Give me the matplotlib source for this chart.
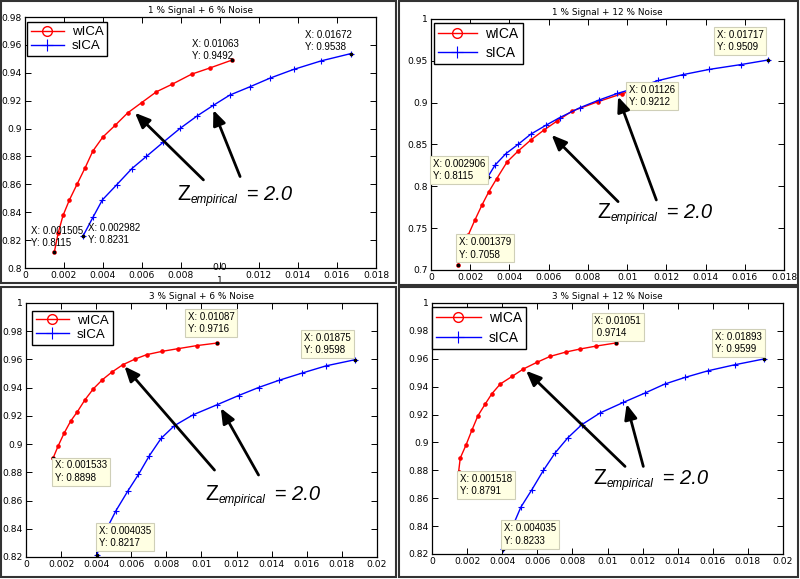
import numpy as np
import matplotlib
matplotlib.use("Agg")
import matplotlib.pyplot as plt
from matplotlib.lines import Line2D
from matplotlib.patches import Rectangle
from matplotlib.ticker import FuncFormatter

plt.rcParams['font.family'] = ['DejaVu Sans']

# --- Données ---
titres = ["1 % Signal + 6 % Noise", "1 % Signal + 12 % Noise",
          "3 % Signal + 6 % Noise", "3 % Signal + 12 % Noise"]

wica_x_1 = [0.001505, 0.00170, 0.00195, 0.00228, 0.00267, 0.00308, 0.00348, 0.00399,
            0.00462, 0.00527, 0.00599, 0.00674, 0.00756, 0.00854, 0.00949, 0.01063]
wica_y_1 = [0.8115, 0.8250, 0.8377, 0.8489, 0.8601, 0.8718, 0.8839, 0.8939,
            0.9023, 0.9113, 0.9187, 0.9264, 0.9319, 0.9390, 0.9435, 0.9492]
sica_x_1 = [0.002982, 0.00349, 0.00397, 0.00471, 0.00548, 0.00623, 0.00708, 0.00795,
            0.00884, 0.00965, 0.01050, 0.01154, 0.01257, 0.01377, 0.01520, 0.01672]
sica_y_1 = [0.8231, 0.8365, 0.8489, 0.8598, 0.8713, 0.8801, 0.8901, 0.9001,
            0.9092, 0.9166, 0.9240, 0.9300, 0.9362, 0.9424, 0.9486, 0.9538]

wica_x_2 = [0.001379, 0.00190, 0.00224, 0.00260, 0.00295, 0.00334, 0.00389, 0.00445,
            0.00509, 0.00576, 0.00643, 0.00720, 0.00852, 0.00975, 0.01126]
wica_y_2 = [0.7058, 0.7418, 0.7598, 0.7777, 0.7936, 0.8088, 0.8295, 0.8423,
            0.8554, 0.8673, 0.8781, 0.8900, 0.9012, 0.9108, 0.9212]
sica_x_2 = [0.002906, 0.00326, 0.00382, 0.00445, 0.00508, 0.00586, 0.00657, 0.00760,
            0.00855, 0.00950, 0.01050, 0.01160, 0.01285, 0.01420, 0.01580, 0.01717]
sica_y_2 = [0.8115, 0.8252, 0.8391, 0.8503, 0.8622, 0.8730, 0.8822, 0.8940,
            0.9030, 0.9110, 0.9180, 0.9265, 0.9335, 0.9398, 0.9455, 0.9509]

wica_x_3 = [0.001533, 0.00184, 0.00217, 0.00255, 0.00293, 0.00336, 0.00384, 0.00435,
            0.00489, 0.00551, 0.00622, 0.00688, 0.00774, 0.00865, 0.00973, 0.01087]
wica_y_3 = [0.8898, 0.8989, 0.9077, 0.9164, 0.9230, 0.9314, 0.9392, 0.9456,
            0.9510, 0.9562, 0.9603, 0.9634, 0.9657, 0.9676, 0.9698, 0.9716]
sica_x_3 = [0.004035, 0.00460, 0.00513, 0.00580, 0.00641, 0.00703, 0.00770, 0.00846,
            0.00951, 0.01087, 0.01211, 0.01325, 0.01439, 0.01572, 0.01711, 0.01875]
sica_y_3 = [0.8217, 0.8400, 0.8529, 0.8667, 0.8785, 0.8918, 0.9041, 0.9131,
            0.9207, 0.9278, 0.9344, 0.9401, 0.9451, 0.9503, 0.9555, 0.9598]

wica_x_4 = [0.001518, 0.00161, 0.00193, 0.00227, 0.00262, 0.00303, 0.00341, 0.00389,
            0.00457, 0.00521, 0.00597, 0.00673, 0.00762, 0.00844, 0.00935, 0.01051]
wica_y_4 = [0.8791, 0.8888, 0.8979, 0.9087, 0.9192, 0.9275, 0.9349, 0.9419,
            0.9474, 0.9527, 0.9574, 0.9617, 0.9648, 0.9670, 0.9691, 0.9714]
sica_x_4 = [0.004035, 0.00460, 0.00506, 0.00569, 0.00635, 0.00701, 0.00773, 0.00853,
            0.00957, 0.01090, 0.01213, 0.01327, 0.01441, 0.01573, 0.01725, 0.01893]
sica_y_4 = [0.8233, 0.8400, 0.8535, 0.8661, 0.8800, 0.8924, 0.9032, 0.9127,
            0.9211, 0.9287, 0.9354, 0.9419, 0.9466, 0.9514, 0.9557, 0.9599]

# --- Mise en page (fractions de figure) ---
positions = [[0.03125, 0.5371, 0.43875, 0.4335],
             [0.53875, 0.5337, 0.44125, 0.4335],
             [0.0325, 0.0380, 0.43875, 0.4387],
             [0.54, 0.0432, 0.43875, 0.4335]]
limites_x = [0.018, 0.018, 0.02, 0.02]
limites_y = [(0.80, 0.98), (0.70, 1.0), (0.82, 1.0), (0.82, 1.0)]
pas_y = [0.02, 0.05, 0.02, 0.02]

# décalages (pixels) des bulles de données : [wICA début, sICA début, wICA fin, sICA fin]
decalages = [[(-23, 26), (5, 13), (-40, 21), (-46, 24)],
             [(1, 28), (-55, 18), (-23, 0), (-51, 30)],
             [(2, -2), (2, 29), (-29, 31), (-51, 27)],
             [(1, -2), (1, 26), (-22, 27), (-49, 27)]]
avec_boite = [False, True, True, True]

# flèches : (queue, pointe) en coordonnées données, et ligne de base du texte Z
fleches = [[((0.00915, 0.8632), (0.00564, 0.9113)), ((0.01103, 0.8656), (0.00966, 0.9133))],
           [((0.00954, 0.7817), (0.00615, 0.8614)), ((0.01149, 0.7837), (0.00954, 0.9072))],
           [((0.01074, 0.8816), (0.00561, 0.9551)), ((0.01325, 0.8781), (0.01110, 0.9255))],
           [((0.01100, 0.8828), (0.00536, 0.9514)), ((0.01204, 0.8828), (0.01109, 0.9275))]]
textes_z = [(0.00779, 0.8488), (0.00846, 0.7622), (0.0102, 0.8604), (0.00917, 0.8702)]

legende_ancre = [(0.005, 0.98), (0.008, 0.985), (0.017, 0.97), (0.0, 0.985)]
legende_taille = [9.5, 10, 9.5, 10]
legende_espace = [0.15, 0.35, 0.15, 0.45]
legende_poignee = [2.5, 2.8, 2.5, 3.2]

series = [(wica_x_1, wica_y_1, sica_x_1, sica_y_1),
          (wica_x_2, wica_y_2, sica_x_2, sica_y_2),
          (wica_x_3, wica_y_3, sica_x_3, sica_y_3),
          (wica_x_4, wica_y_4, sica_x_4, sica_y_4)]

fig = plt.figure(figsize=(8, 5.79), dpi=100)

# cadres autour des quatre sous-figures
for (x0, y0, x1, y1) in [(1, 1, 396, 283), (399, 1, 798, 285), (1, 287, 396, 577), (399, 287, 798, 577)]:
    fig.patches.append(Rectangle((x0 / 800, 1 - y1 / 579), (x1 - x0) / 800, (y1 - y0) / 579,
                                 transform=fig.transFigure, fill=False, lw=1.5,
                                 edgecolor='#333333', zorder=0))


def format_tick(v, p):
    return "%g" % round(v, 6)


def format_tick_tl(v, p):
    # étiquette 0.01 coupée sur la capture d'origine
    if abs(v - 0.01) < 1e-9:
        return ""
    return "%g" % round(v, 6)


for i in range(4):
    ax = fig.add_axes(positions[i])
    wx, wy, sx, sy = series[i]
    ax.plot(wx, wy, color='#FF0000', lw=1, marker='o', ms=2.3, mfc='#FF0000', mec='#FF0000')
    ax.plot(sx, sy, color='#0000FF', lw=1, marker='+', ms=4, mew=0.8)

    ax.set_xlim(0, limites_x[i])
    ax.set_ylim(*limites_y[i])
    ax.set_xticks(np.arange(0, limites_x[i] + 1e-9, 0.002))
    y0, y1 = limites_y[i]
    ax.set_yticks(np.arange(y0, y1 + 1e-9, pas_y[i]))
    ax.xaxis.set_major_formatter(FuncFormatter(format_tick_tl if i == 0 else format_tick))
    ax.yaxis.set_major_formatter(FuncFormatter(format_tick))
    ax.tick_params(direction='in', top=True, right=True, length=4, width=0.7,
                   labelsize=6.6, pad=2.5)
    for s in ax.spines.values():
        s.set_linewidth(0.9)
    ax.set_title(titres[i], fontsize=6.4, pad=3)

    # bulles de données (data cursors)
    points = [(wx[0], wy[0]), (sx[0], sy[0]), (wx[-1], wy[-1]), (sx[-1], sy[-1])]
    for j, (px, py) in enumerate(points):
        ax.plot([px], [py], 's', color='k', ms=2, zorder=6)
        label = "X: %.4g\nY: %.4g" % (px, py)
        if i == 3 and j == 2:
            label = "X: 0.01051\n 0.9714"
        bbox = None
        if avec_boite[i]:
            bbox = dict(boxstyle='square,pad=0.3', fc='#FFFFE3', ec='#CFCFB8', lw=0.8)
        ax.annotate(label, (px, py), xytext=decalages[i][j], textcoords='offset pixels',
                    ha='left', va='top', fontsize=7, family='Liberation Sans',
                    linespacing=1.3, bbox=bbox, zorder=7)

    # flèches et texte Z
    for (queue, pointe) in fleches[i]:
        ax.annotate('', xy=pointe, xytext=queue,
                    arrowprops=dict(arrowstyle='-|>,head_length=0.9,head_width=0.38',
                                    color='k', lw=2, shrinkA=0, shrinkB=0), zorder=8)
    zx, zy = textes_z[i]
    t1 = ax.text(zx, zy, 'Z', fontsize=15.5, family='Liberation Sans',
                 ha='left', va='baseline', zorder=8)
    t2 = ax.annotate('empirical', xy=(1, zy), xycoords=(t1, 'data'),
                     xytext=(0.3, -2), textcoords='offset points',
                     fontsize=8.5, family='Liberation Sans', style='italic',
                     ha='left', va='baseline', zorder=8)
    ax.annotate(' = 2.0', xy=(1, zy), xycoords=(t2, 'data'),
                xytext=(3, 0), textcoords='offset points',
                fontsize=14.5, family='Liberation Sans', style='italic',
                ha='left', va='baseline', zorder=8)

    # légende
    poignees = [Line2D([], [], color='#FF0000', lw=1, marker='o', ms=7, mfc='none', mec='#FF0000'),
                Line2D([], [], color='#0000FF', lw=1, marker='+', ms=8, mew=0.8)]
    leg = ax.legend(poignees, ['wICA', 'sICA'], loc='upper left',
                    bbox_to_anchor=legende_ancre[i], borderaxespad=0,
                    prop={'family': 'Liberation Sans', 'size': legende_taille[i]},
                    fancybox=False, framealpha=1,
                    edgecolor='k', handlelength=legende_poignee[i], handletextpad=0.6,
                    borderpad=0.3, labelspacing=legende_espace[i])
    leg.get_frame().set_linewidth(1)

    if i == 0:
        ax.annotate('0.0', (0.01, 0), xycoords=('data', 'axes fraction'),
                    xytext=(0, 1), textcoords='offset pixels', ha='center', va='center',
                    fontsize=6.6)
        ax.annotate('1', (0.01, 0), xycoords=('data', 'axes fraction'),
                    xytext=(0, -12), textcoords='offset pixels', ha='center', va='center',
                    fontsize=6.6)

fig.savefig("out.png", dpi=100)
